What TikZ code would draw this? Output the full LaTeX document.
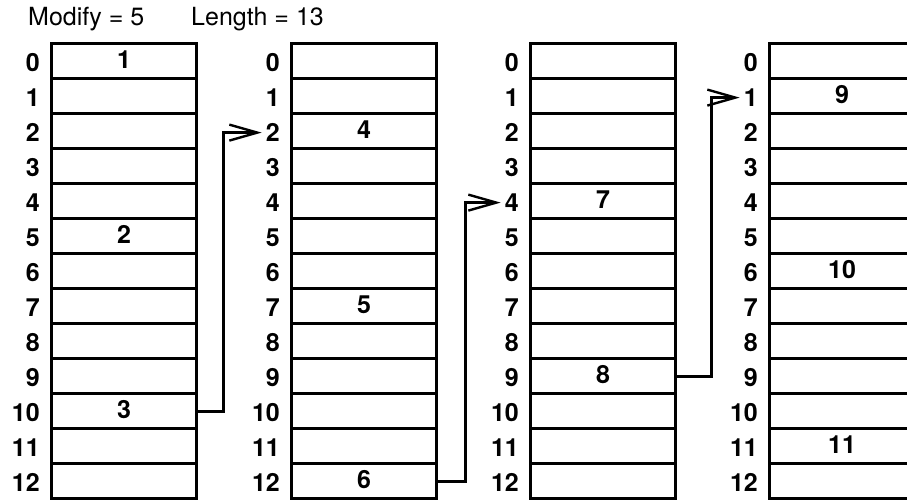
\documentclass[tikz,border=0pt]{standalone}
\usepackage{fontspec}
\setmainfont{TeX Gyre Heros}
\usetikzlibrary{arrows.meta}
\tikzset{
  cellbox/.style={draw, line width=3.2pt, rectangle, minimum width=145pt, minimum height=35pt, inner sep=0pt, anchor=north west},
  idxlabel/.style={font=\fontsize{25}{29}\selectfont\bfseries, anchor=east, inner sep=1pt},
  vallabel/.style={font=\fontsize{25}{29}\selectfont\bfseries, inner sep=0pt},
  titlelabel/.style={font=\fontsize{25}{29}\selectfont, anchor=base west, inner sep=0pt},
  link/.style={line width=2.8pt, line join=miter, -{Straight Barb[length=28pt,width=16pt,line width=2.4pt]}, shorten >=3pt}
}
\begin{document}
\begin{tikzpicture}[x=1pt,y=-1pt]
\useasboundingbox (0,0) rectangle (907,500);
\fill[white] (0,0) rectangle (907,500);
\node[titlelabel] (t1) at (28,26) {Modify = 5};
\node[titlelabel] (t2) at (191,26) {Length = 13};
\foreach \c/\x in {1/50,2/290,3/529,4/768}{
  \foreach \r in {0,...,12}{
    \node[cellbox] (c\c-\r) at (\x,{42+35*\r}) {};
    \node[idxlabel] (l\c-\r) at ([xshift=-9pt,yshift=-1.5pt]c\c-\r.west) {\r};
  }
}
\foreach \c/\r/\v in {1/0/1,1/5/2,1/10/3,2/2/4,2/7/5,2/12/6,3/4/7,3/9/8,4/1/9,4/6/10,4/11/11}{
  \node[vallabel] (v\c-\r) at ([yshift=1.5pt]c\c-\r.center) {\v};
}
\draw[link] (c1-10.east) -- ++(25,0) |- (l2-2.west);
\draw[link] (c2-12.east) -- ++(27,0) |- (l3-4.west);
\draw[link] (c3-9.east) -- ++(34,0) |- (l4-1.west);
\end{tikzpicture}
\end{document}
